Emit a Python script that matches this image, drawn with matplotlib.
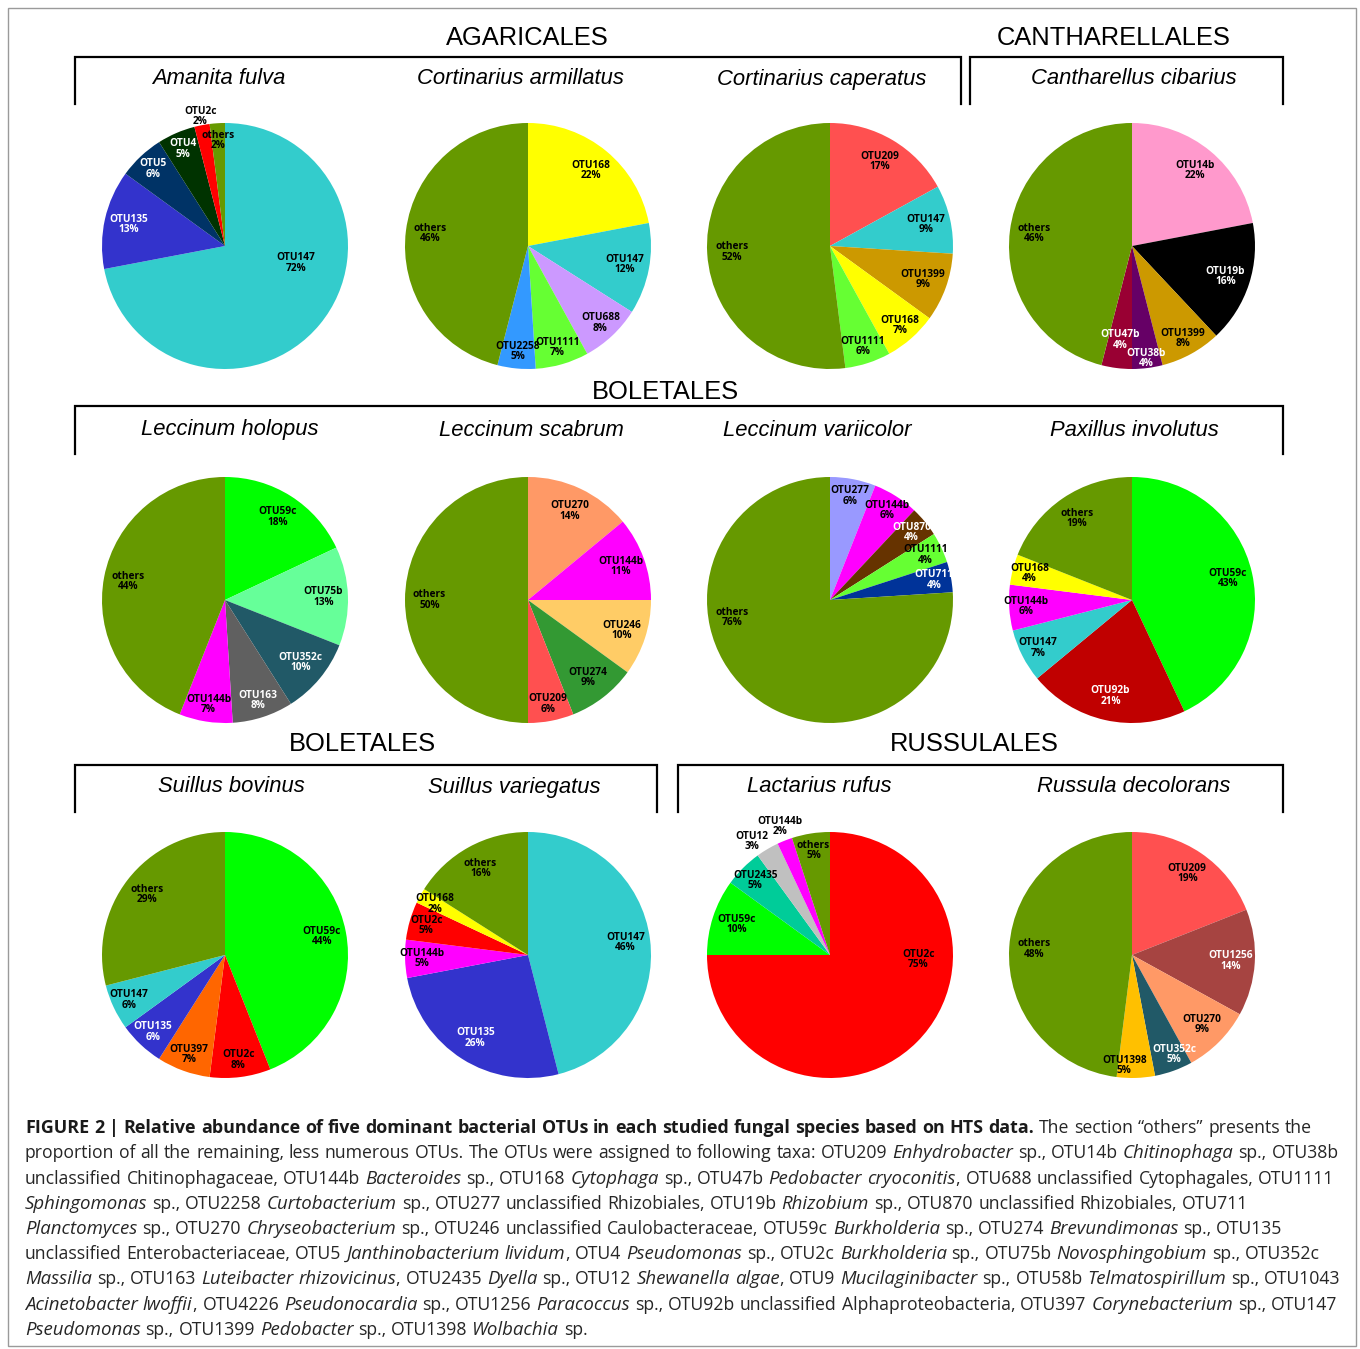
import re

import matplotlib

matplotlib.use("Agg")
import matplotlib.pyplot as plt
import numpy as np
from matplotlib.patches import Rectangle

W, H = 1360, 1349

# Relative abundance (%) of dominant OTUs, listed clockwise from 12 o'clock
amanita_fulva_otus = ["OTU147", "OTU135", "OTU5", "OTU4", "OTU2c", "others"]
amanita_fulva_pct = [72, 13, 6, 5, 2, 2]
cort_armillatus_otus = ["OTU168", "OTU147", "OTU688", "OTU1111", "OTU2258", "others"]
cort_armillatus_pct = [22, 12, 8, 7, 5, 46]
cort_caperatus_otus = ["OTU209", "OTU147", "OTU1399", "OTU168", "OTU1111", "others"]
cort_caperatus_pct = [17, 9, 9, 7, 6, 52]
canth_cibarius_otus = ["OTU14b", "OTU19b", "OTU1399", "OTU38b", "OTU47b", "others"]
canth_cibarius_pct = [22, 16, 8, 4, 4, 46]
lecc_holopus_otus = ["OTU59c", "OTU75b", "OTU352c", "OTU163", "OTU144b", "others"]
lecc_holopus_pct = [18, 13, 10, 8, 7, 44]
lecc_scabrum_otus = ["OTU270", "OTU144b", "OTU246", "OTU274", "OTU209", "others"]
lecc_scabrum_pct = [14, 11, 10, 9, 6, 50]
lecc_variicolor_otus = ["OTU277", "OTU144b", "OTU870", "OTU1111", "OTU711", "others"]
lecc_variicolor_pct = [6, 6, 4, 4, 4, 76]
pax_involutus_otus = ["OTU59c", "OTU92b", "OTU147", "OTU144b", "OTU168", "others"]
pax_involutus_pct = [43, 21, 7, 6, 4, 19]
suil_bovinus_otus = ["OTU59c", "OTU2c", "OTU397", "OTU135", "OTU147", "others"]
suil_bovinus_pct = [44, 8, 7, 6, 6, 29]
suil_variegatus_otus = ["OTU147", "OTU135", "OTU144b", "OTU2c", "OTU168", "others"]
suil_variegatus_pct = [46, 26, 5, 5, 2, 16]
lact_rufus_otus = ["OTU2c", "OTU59c", "OTU2435", "OTU12", "OTU144b", "others"]
lact_rufus_pct = [75, 10, 5, 3, 2, 5]
russ_decolorans_otus = ["OTU209", "OTU1256", "OTU270", "OTU352c", "OTU1398", "others"]
russ_decolorans_pct = [19, 14, 9, 5, 5, 48]

OTU_COLORS = {
    "others": "#669900", "OTU147": "#33CCCC", "OTU135": "#3333CC", "OTU5": "#003366",
    "OTU4": "#003300", "OTU2c": "#FF0000", "OTU168": "#FFFF00", "OTU688": "#CC99FF",
    "OTU1111": "#66FF33", "OTU2258": "#3399FF", "OTU209": "#FF5050", "OTU1399": "#CC9900",
    "OTU14b": "#FF99CC", "OTU19b": "#000000", "OTU38b": "#660066", "OTU47b": "#990033",
    "OTU59c": "#00FF00", "OTU75b": "#66FF99", "OTU352c": "#215967", "OTU163": "#606060",
    "OTU144b": "#FF00FF", "OTU270": "#FF9966", "OTU246": "#FFCC66", "OTU274": "#339933",
    "OTU277": "#9999FF", "OTU870": "#663300", "OTU711": "#003399", "OTU92b": "#C00000",
    "OTU397": "#FF6600", "OTU2435": "#00CC99", "OTU12": "#C0C0C0", "OTU1256": "#A64441",
    "OTU1398": "#FFC000",
}
WHITE_LABEL = {"OTU135", "OTU5", "OTU4", "OTU19b", "OTU38b", "OTU47b", "OTU352c",
               "OTU163", "OTU870", "OTU711", "OTU92b", "OTU1256"}

# (species, otus, pct, column, row)
PIES = [
    ("Amanita fulva", amanita_fulva_otus, amanita_fulva_pct, 0, 0),
    ("Cortinarius armillatus", cort_armillatus_otus, cort_armillatus_pct, 1, 0),
    ("Cortinarius caperatus", cort_caperatus_otus, cort_caperatus_pct, 2, 0),
    ("Cantharellus cibarius", canth_cibarius_otus, canth_cibarius_pct, 3, 0),
    ("Leccinum holopus", lecc_holopus_otus, lecc_holopus_pct, 0, 1),
    ("Leccinum scabrum", lecc_scabrum_otus, lecc_scabrum_pct, 1, 1),
    ("Leccinum variicolor", lecc_variicolor_otus, lecc_variicolor_pct, 2, 1),
    ("Paxillus involutus", pax_involutus_otus, pax_involutus_pct, 3, 1),
    ("Suillus bovinus", suil_bovinus_otus, suil_bovinus_pct, 0, 2),
    ("Suillus variegatus", suil_variegatus_otus, suil_variegatus_pct, 1, 2),
    ("Lactarius rufus", lact_rufus_otus, lact_rufus_pct, 2, 2),
    ("Russula decolorans", russ_decolorans_otus, russ_decolorans_pct, 3, 2),
]

# layout in pixels, measured from the top-left corner
PIE_X = [225, 528, 830, 1132]
PIE_Y = [246, 600, 955]
PIE_R = 123
TITLE_X = {
    "Amanita fulva": 219, "Cortinarius armillatus": 520, "Cortinarius caperatus": 822,
    "Cantharellus cibarius": 1134, "Leccinum holopus": 230, "Leccinum scabrum": 531,
    "Leccinum variicolor": 817, "Paxillus involutus": 1134, "Suillus bovinus": 231,
    "Suillus variegatus": 514, "Lactarius rufus": 819, "Russula decolorans": 1134,
}
TITLE_Y = [79, 430, 787]
# label placement tweaks: radius factor, or (radius factor, angle in degrees)
LABEL_POS = {
    ("Amanita fulva", "OTU147"): (0.59, -13.5),
    ("Amanita fulva", "OTU2c"): 1.07,
    ("Cantharellus cibarius", "OTU47b"): 0.77,
    ("Cantharellus cibarius", "OTU38b"): 0.92,
    ("Lactarius rufus", "OTU2c"): (0.72, -3),
    ("Lactarius rufus", "OTU12"): (1.12, 124.6),
    ("Lactarius rufus", "OTU144b"): (1.12, 111.2),
    ("Leccinum variicolor", "others"): (0.81, -170),
    ("Russula decolorans", "OTU1398"): (0.9, -94),
    ("Russula decolorans", "OTU352c"): (0.88, -67),
}
# order name, text x, text y, bracket left, bracket right, bracket top, bracket bottom
GROUPS = [
    ("AGARICALES", 527, 38, 75, 961, 57, 104),
    ("CANTHARELLALES", 1114, 38, 970, 1283, 57, 104),
    ("BOLETALES", 665, 392, 75, 1283, 406, 454),
    ("BOLETALES", 362, 744, 75, 657, 765, 812),
    ("RUSSULALES", 974, 744, 678, 1283, 765, 812),
]

CAPTION = [
    [("FIGURE 2 | Relative abundance of five dominant bacterial OTUs in each studied fungal species based on HTS data.", "b"),
     (" The section \u201cothers\u201d presents the", "r")],
    [("proportion of all the remaining, less numerous OTUs. The OTUs were assigned to following taxa: OTU209 ", "r"),
     ("Enhydrobacter", "i"), (" sp., OTU14b ", "r"), ("Chitinophaga", "i"), (" sp., OTU38b", "r")],
    [("unclassified Chitinophagaceae, OTU144b ", "r"), ("Bacteroides", "i"), (" sp., OTU168 ", "r"),
     ("Cytophaga", "i"), (" sp., OTU47b ", "r"), ("Pedobacter cryoconitis", "i"),
     (", OTU688 unclassified Cytophagales, OTU1111", "r")],
    [("Sphingomonas", "i"), (" sp., OTU2258 ", "r"), ("Curtobacterium", "i"),
     (" sp., OTU277 unclassified Rhizobiales, OTU19b ", "r"), ("Rhizobium", "i"),
     (" sp., OTU870 unclassified Rhizobiales, OTU711", "r")],
    [("Planctomyces", "i"), (" sp., OTU270 ", "r"), ("Chryseobacterium", "i"),
     (" sp., OTU246 unclassified Caulobacteraceae, OTU59c ", "r"), ("Burkholderia", "i"),
     (" sp., OTU274 ", "r"), ("Brevundimonas", "i"), (" sp., OTU135", "r")],
    [("unclassified Enterobacteriaceae, OTU5 ", "r"), ("Janthinobacterium lividum", "i"), (", OTU4 ", "r"),
     ("Pseudomonas", "i"), (" sp., OTU2c ", "r"), ("Burkholderia", "i"), (" sp., OTU75b ", "r"),
     ("Novosphingobium", "i"), (" sp., OTU352c", "r")],
    [("Massilia", "i"), (" sp., OTU163 ", "r"), ("Luteibacter rhizovicinus", "i"), (", OTU2435 ", "r"),
     ("Dyella", "i"), (" sp., OTU12 ", "r"), ("Shewanella algae", "i"), (", OTU9 ", "r"),
     ("Mucilaginibacter", "i"), (" sp., OTU58b ", "r"), ("Telmatospirillum", "i"), (" sp., OTU1043", "r")],
    [("Acinetobacter lwoffii", "i"), (", OTU4226 ", "r"), ("Pseudonocardia", "i"), (" sp., OTU1256 ", "r"),
     ("Paracoccus", "i"), (" sp., OTU92b unclassified Alphaproteobacteria, OTU397 ", "r"),
     ("Corynebacterium", "i"), (" sp., OTU147", "r")],
    [("Pseudomonas", "i"), (" sp., OTU1399 ", "r"), ("Pedobacter", "i"), (" sp., OTU1398 ", "r"),
     ("Wolbachia", "i"), (" sp.", "r")],
]
CAP_FONT = "Open Sans"
CAP_FS = {"b": 12.9, "i": 13.4, "r": 12.7}
CAP_STYLES = {
    "b": dict(weight="bold", style="normal", color="#1a1a1a"),
    "i": dict(weight="normal", style="italic", color="#262626"),
    "r": dict(weight="normal", style="normal", color="#262626"),
}


def fy(y):
    return H - y


fig = plt.figure(figsize=(W / 100, H / 100), dpi=100)
ax = fig.add_axes([0, 0, 1, 1])

for species, otus, pct, col, row in PIES:
    cx, cy = PIE_X[col], fy(PIE_Y[row])
    colors = [OTU_COLORS[o] for o in otus]
    ax.pie(pct, colors=colors, startangle=90, counterclock=False, center=(cx, cy),
           radius=PIE_R, frame=True, wedgeprops=dict(linewidth=0))
    total = float(sum(pct))
    cum = 0.0
    for otu, p in zip(otus, pct):
        mid = 90 - 360 * (cum + p / 2) / total
        cum += p
        r = 0.8 if p >= 9 else 0.86
        pos = LABEL_POS.get((species, otu))
        if isinstance(pos, tuple):
            r, mid = pos
        elif pos is not None:
            r = pos
        tx = cx + r * PIE_R * np.cos(np.radians(mid))
        ty = cy + r * PIE_R * np.sin(np.radians(mid))
        outside = r > 1
        color = "white" if (otu in WHITE_LABEL and not outside) else "black"
        ax.text(tx, ty, f"{otu}\n{p}%", ha="center", va="center", fontsize=7.3,
                fontweight="bold", family="Open Sans", color=color, linespacing=0.92)
    ax.text(TITLE_X[species], fy(TITLE_Y[row]), species, ha="center", va="center",
            fontsize=15.8, style="italic", family="Liberation Sans")

for name, tx, ty, x0, x1, ytop, ybot in GROUPS:
    ax.text(tx, fy(ty), name, ha="center", va="center", fontsize=18.4, family="Liberation Sans")
    ax.plot([x0, x0, x1, x1], [fy(ybot), fy(ytop), fy(ytop), fy(ybot)], color="black",
            lw=1.6, solid_joinstyle="miter")

ax.add_patch(Rectangle((8, fy(1346)), 1348, 1338, fill=False, edgecolor="#9a9a9a", lw=1.0))

ax.set_xlim(0, W)
ax.set_ylim(0, H)
ax.set_aspect("auto")
ax.axis("off")

# caption with mixed bold / italic runs, laid out run by run
renderer = fig.canvas.get_renderer()


def ink_width(s, st):
    t = ax.text(0, 0, s, fontsize=CAP_FS[st], family=CAP_FONT, **CAP_STYLES[st])
    w = t.get_window_extent(renderer).width
    t.remove()
    return w


gap = {st: ink_width("a a", st) - 2 * ink_width("a", st) - 0.6 for st in CAP_STYLES}
line_y = 1133
for line in CAPTION:
    x = 25
    prev_st = None
    for s, st in line:
        for i, chunk in enumerate(re.findall(r"\S+|\s+", s)):
            if chunk.isspace():
                x += gap[st] * len(chunk)
                continue
            if i == 0 and prev_st == "i" and st == "r":
                # pull punctuation back against the slanted italic word
                x -= 1.5
            t = ax.text(x, fy(line_y), chunk, ha="left", va="baseline", fontsize=CAP_FS[st],
                        family=CAP_FONT, **CAP_STYLES[st])
            x += t.get_window_extent(renderer).width + 0.8
            if chunk in (",", "."):
                x += 1.2
        prev_st = st
    line_y += 25.25

fig.savefig("out.png", dpi=100, facecolor="white")
